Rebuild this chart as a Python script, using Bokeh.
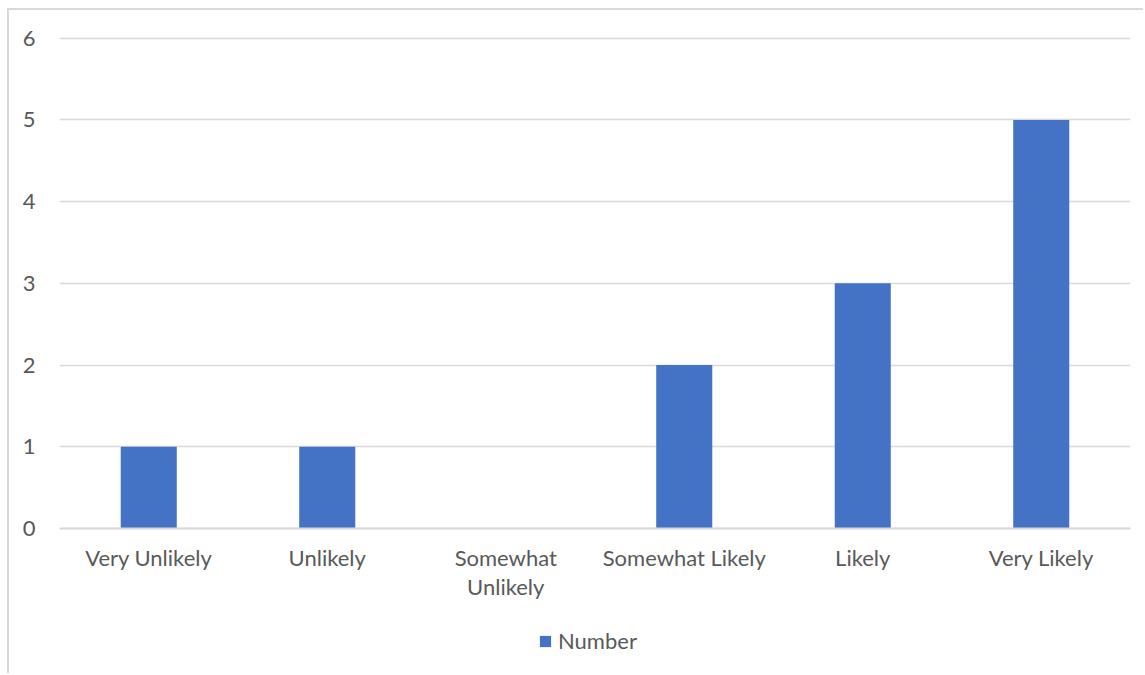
from bokeh.plotting import figure
from bokeh.models import FactorRange, Range1d, ColumnDataSource, Legend, LegendItem, FixedTicker, Span
from bokeh.core.properties import value
from bokeh.embed import file_html
from bokeh.resources import INLINE

# Survey responses per likelihood category
categories = ["Very Unlikely", "Unlikely", "Somewhat\nUnlikely", "Somewhat Likely", "Likely", "Very Likely"]
counts = [1, 1, 0, 2, 3, 5]
series_name = "Number"
y_ticks = [0, 1, 2, 3, 4, 5, 6]

TEXT = "#595959"
GRID = "#d9d9d9"
BAR = "#4472C4"
FONT = "Lato"
FONT_SIZE = "22px"

source = ColumnDataSource(dict(cat=categories, val=counts, base=[0] * len(categories)))

# The frame runs down past the baseline so the category labels and the
# legend can sit inside it, under the zero line.
p = figure(
    x_range=FactorRange(*categories, range_padding=0),
    y_range=Range1d(-1.675, 6.02),
    width=1136, height=665,
    output_backend="svg", toolbar_location=None,
    x_axis_location=None,
    min_border_left=50, min_border_right=15, min_border_top=26, min_border_bottom=10,
)
p.styles = {
    "margin-left": "7px", "margin-top": "8px",
    "border-left": f"2px solid {GRID}", "border-top": f"2px solid {GRID}",
}
p.outline_line_color = None
p.background_fill_color = "white"
p.border_fill_color = "white"

bars = p.vbar(x="cat", top="val", width=0.314, source=source, fill_color=BAR, line_color=None)

# Gridlines
p.xgrid.grid_line_color = None
p.ygrid.grid_line_color = GRID
p.ygrid.grid_line_width = 1.5
p.ygrid.ticker = FixedTicker(ticks=y_ticks)

# Category baseline
p.add_layout(Span(location=0, dimension="width", line_color=GRID, line_width=2))

# Y axis: labels only
p.yaxis.ticker = FixedTicker(ticks=y_ticks)
p.yaxis.axis_line_color = None
p.yaxis.major_tick_line_color = None
p.yaxis.minor_tick_line_color = None
p.yaxis.major_label_text_color = TEXT
p.yaxis.major_label_text_font = FONT
p.yaxis.major_label_text_font_size = FONT_SIZE
p.yaxis.major_label_standoff = 18

# Category labels under the baseline
p.text(
    x="cat", y="base", text="cat", source=source,
    y_offset=15, text_align="center", text_baseline="top",
    text_font=value(FONT), text_font_size=value(FONT_SIZE), text_color=TEXT,
    text_line_height=1.08,
)

legend = Legend(
    items=[LegendItem(label=series_name, renderers=[bars])],
    location=(479, 11),
    orientation="horizontal",
    label_text_font=FONT, label_text_font_size=FONT_SIZE, label_text_color=TEXT,
    glyph_width=14, glyph_height=14,
    border_line_color=None, background_fill_alpha=0,
    padding=0, margin=0, spacing=0, label_standoff=6,
)
p.add_layout(legend, "center")

open("out.html", "w").write(file_html(p, INLINE))
